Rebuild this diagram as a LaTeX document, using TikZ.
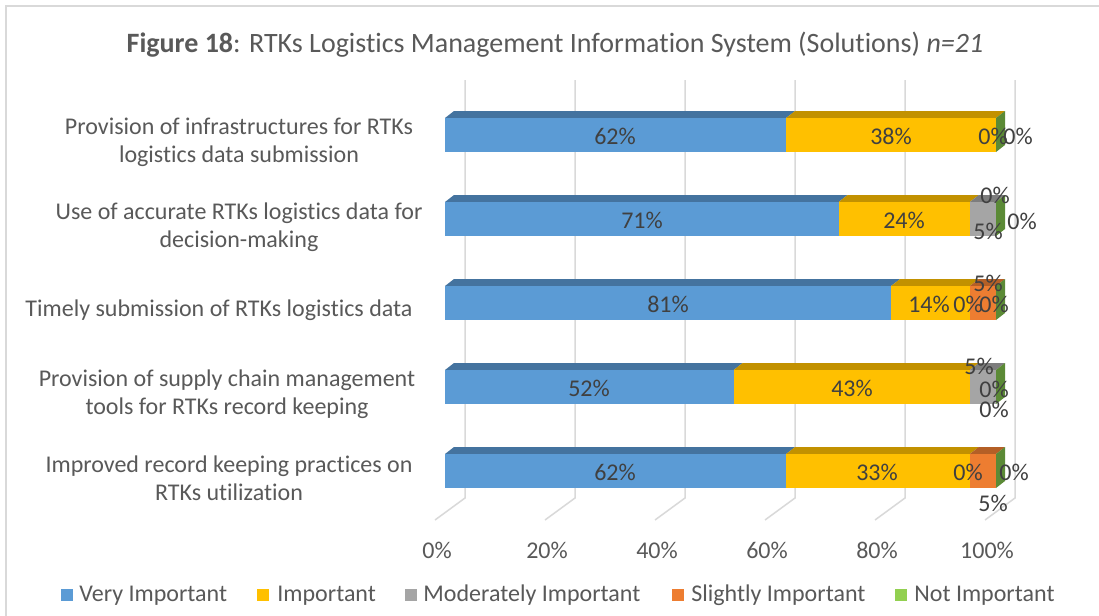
\documentclass[tikz,border=0pt]{standalone}
\usepackage{fontspec}
\setmainfont{Carlito}[Ligatures=NoCommon]
\definecolor{vi}{HTML}{5B9BD5}
\definecolor{vitop}{HTML}{44739F}
\definecolor{im}{HTML}{FFC000}
\definecolor{imtop}{HTML}{C29100}
\definecolor{mi}{HTML}{A5A5A5}
\definecolor{mitop}{HTML}{7D7D7D}
\definecolor{si}{HTML}{ED7D31}
\definecolor{sitop}{HTML}{B45F26}
\definecolor{ni}{HTML}{92D050}
\definecolor{niside}{HTML}{5B8A36}
\definecolor{gridc}{HTML}{D9D9D9}
\definecolor{labc}{HTML}{595959}
\definecolor{datac}{HTML}{404040}
% one count out of n=21, in pixels along the value axis
\def\pcu{26.2381}
% segment of a 3D bar: from count #1 to count #2, front top at #3
\newcommand\seg[5]{%
  \fill[#5] ({445+#1*\pcu},#3) -- ({445+#2*\pcu},#3) -- ({454+#2*\pcu},#3-7) -- ({454+#1*\pcu},#3-7) -- cycle;
  \fill[#4] ({445+#1*\pcu},#3) rectangle ({445+#2*\pcu},#3+34);}
% right end face of a bar
\newcommand\barend[1]{%
  \fill[niside] (996,#1) -- (1005,#1-7) -- (1005,#1+27) -- (996,#1+34) -- cycle;}
\begin{document}
\begin{tikzpicture}[x=0.5pt,y=-0.5pt,
  grid/.style={draw=gridc,line width=0.75pt},
  catlab/.style={text=labc,align=center,font=\fontsize{12}{14}\selectfont,inner sep=0pt},
  datalab/.style={text=datac,font=\fontsize{12}{14}\selectfont,inner sep=0pt},
  axlab/.style={text=labc,font=\fontsize{12}{14}\selectfont,inner sep=0pt},
  legtext/.style={text=labc,font=\fontsize{12}{14}\selectfont,inner sep=0pt,anchor=base west},
  legbox/.style={minimum size=6pt,inner sep=0pt,anchor=west}]
\useasboundingbox (0,0) rectangle (1099,616);
\fill[white] (0,0) rectangle (1099,616);
% chart frame
\draw[draw=gridc,line width=1pt] (5.5,616) -- (5.5,5.5) -- (1099,5.5);

% title
\node[text=labc,font=\fontsize{14}{16}\selectfont,inner sep=0pt] (title) at (555,45)
  {\textbf{Figure 18}: RTKs Logistics Management Information System (Solutions) \textit{n=21}};

% back gridlines with floor ticks
\foreach \k in {0,...,5}
  \draw[grid] (465+110*\k,80) -- (465+110*\k,498) -- (435+110*\k,520);

% axis labels
\foreach \k/\t in {0/0,1/20,2/40,3/60,4/80,5/100}
  \node[axlab] (ax\k) at (437+110*\k,550) {\t\%};

% row 1
\seg{0}{13}{118}{vi}{vitop}
\seg{13}{21}{118}{im}{imtop}
\barend{118}
% row 2
\seg{0}{15}{202}{vi}{vitop}
\seg{15}{20}{202}{im}{imtop}
\seg{20}{21}{202}{mi}{mitop}
\barend{202}
% row 3
\seg{0}{17}{286}{vi}{vitop}
\seg{17}{20}{286}{im}{imtop}
\seg{20}{21}{286}{si}{sitop}
\barend{286}
% row 4
\seg{0}{11}{370}{vi}{vitop}
\seg{11}{20}{370}{im}{imtop}
\seg{20}{21}{370}{mi}{mitop}
\barend{370}
% row 5
\seg{0}{13}{454}{vi}{vitop}
\seg{13}{20}{454}{im}{imtop}
\seg{20}{21}{454}{si}{sitop}
\barend{454}

% category labels
\node[catlab] (c1) at (239,142) {Provision of infrastructures for RTKs\\logistics data submission};
\node[catlab] (c2) at (239,227) {Use of accurate RTKs logistics data for\\decision-making};
\node[catlab] (c3) at (219,310) {Timely submission of RTKs logistics data};
\node[catlab] (c4) at (227,394) {Provision of supply chain management\\tools for RTKs record keeping};
\node[catlab] (c5) at (229,478) {Improved record keeping practices on\\RTKs utilization};

% data labels
\node[datalab] (d11) at (615,136) {62\%};
\node[datalab] (d12) at (891,136) {38\%};
\node[datalab] (d13) at (993,136) {0\%};
\node[datalab] (d14) at (1018,136) {0\%};

\node[datalab] (d21) at (642,220) {71\%};
\node[datalab] (d22) at (904,220) {24\%};
\node[datalab] (d23) at (988,231) {5\%};
\node[datalab] (d24) at (995,195) {0\%};
\node[datalab] (d25) at (1022,221) {0\%};

\node[datalab] (d31) at (668,304) {81\%};
\node[datalab] (d32) at (929,304) {14\%};
\node[datalab] (d33) at (968,304) {0\%};
\node[datalab] (d34) at (988,283) {5\%};
\node[datalab] (d35) at (994,304) {0\%};

\node[datalab] (d41) at (589,388) {52\%};
\node[datalab] (d42) at (852,388) {43\%};
\node[datalab] (d43) at (979,366) {5\%};
\node[datalab] (d44) at (994,389) {0\%};
\node[datalab] (d45) at (994,409) {0\%};

\node[datalab] (d51) at (615,472) {62\%};
\node[datalab] (d52) at (877,472) {33\%};
\node[datalab] (d53) at (968,472) {0\%};
\node[datalab] (d54) at (1014,472) {0\%};
\node[datalab] (d55) at (993,503) {5\%};

% legend
\node[legbox,fill=vi] (k1) at (61,595) {};
\node[legtext] (l1) at (79,601) {Very Important};
\node[legbox,fill=im] (k2) at (257,595) {};
\node[legtext] (l2) at (277,601) {Important};
\node[legbox,fill=mi] (k3) at (405,595) {};
\node[legtext] (l3) at (423,601) {Moderately Important};
\node[legbox,fill=si] (k4) at (672,595) {};
\node[legtext] (l4) at (691,601) {Slightly Important};
\node[legbox,fill=ni] (k5) at (895,595) {};
\node[legtext] (l5) at (914,601) {Not Important};
\end{tikzpicture}
\end{document}
